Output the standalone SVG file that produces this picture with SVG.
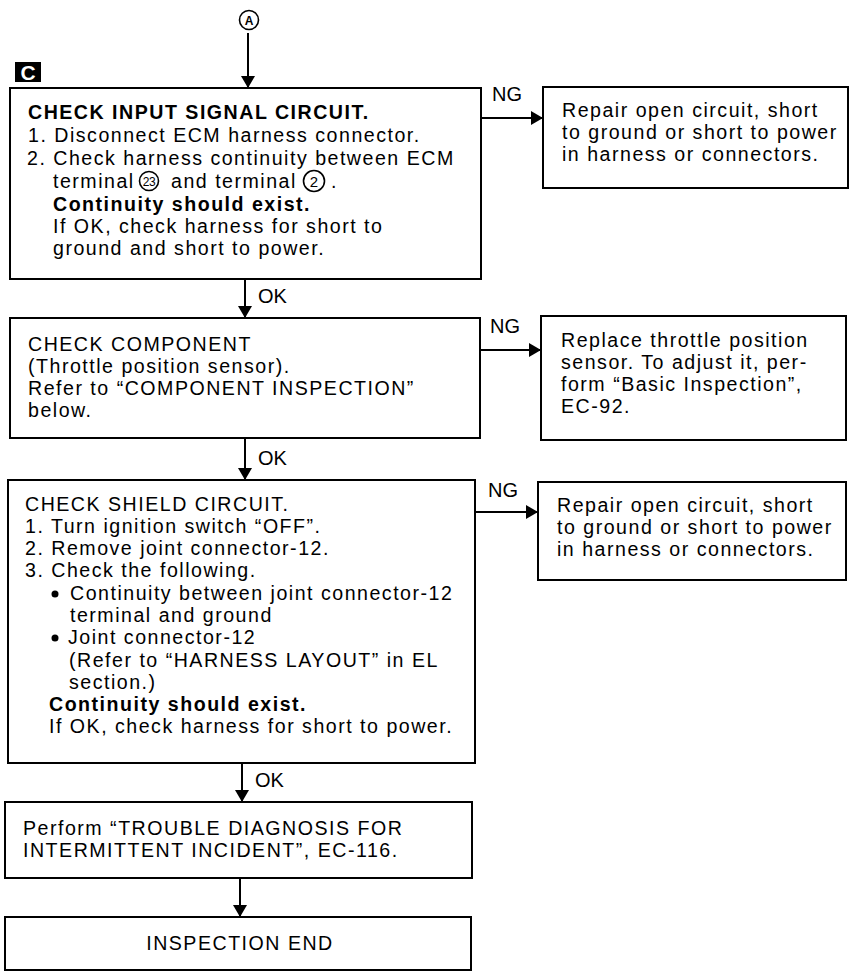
<svg xmlns="http://www.w3.org/2000/svg" width="857" height="973" viewBox="0 0 857 973">
<style>
.box{fill:#fff;stroke:#000;stroke-width:2}
.t{font-family:"Liberation Sans",Arial,sans-serif;font-size:19.6px;letter-spacing:1.5px;fill:#000}
.b{font-weight:bold}
.lbl{font-family:"Liberation Sans",Arial,sans-serif;font-size:20px;fill:#000}
.cn{font-family:"Liberation Sans",Arial,sans-serif;fill:#000;text-anchor:middle}
.ring{fill:none;stroke:#000;stroke-width:1.6}
.con{stroke:#000;stroke-width:2;fill:none;marker-end:url(#ah)}
</style>
<defs>
<marker id="ah" viewBox="0 0 12 14" refX="12" refY="7" markerWidth="12" markerHeight="14" orient="auto" markerUnits="userSpaceOnUse">
<path d="M0,0 L12,7 L0,14 z" fill="#000"/>
</marker>
</defs>
<rect width="857" height="973" fill="#fff"/>

<g id="connector-A">
<circle class="ring" cx="249" cy="20" r="9.5"/>
<text class="cn" x="249" y="24.5" font-size="12" font-weight="bold">A</text>
</g>

<g id="badge-C">
<rect x="15" y="62" width="26" height="20" fill="#000"/>
<text x="28" y="80" text-anchor="middle" font-family="Liberation Sans,Arial,sans-serif" font-size="21" font-weight="bold" fill="#fff">C</text>
</g>

<g id="connectors">
<line class="con" x1="248" y1="33" x2="248" y2="88"/>
<line class="con" x1="481" y1="118" x2="543" y2="118"/>
<line class="con" x1="245" y1="279" x2="245" y2="318"/>
<line class="con" x1="480" y1="350" x2="541" y2="350"/>
<line class="con" x1="245" y1="438" x2="245" y2="480"/>
<line class="con" x1="475" y1="512" x2="538" y2="512"/>
<line class="con" x1="242" y1="763" x2="242" y2="802"/>
<line class="con" x1="240" y1="878" x2="240" y2="917"/>
<text class="lbl" x="492" y="101">NG</text>
<text class="lbl" x="258" y="303">OK</text>
<text class="lbl" x="490" y="333">NG</text>
<text class="lbl" x="258" y="465">OK</text>
<text class="lbl" x="488" y="497">NG</text>
<text class="lbl" x="255" y="787">OK</text>
</g>

<g id="check-input-signal">
<rect class="box" x="10" y="88" width="471" height="191"/>
<text class="t b" x="28" y="119">CHECK INPUT SIGNAL CIRCUIT.</text>
<text class="t" x="28" y="142">1. Disconnect ECM harness connector.</text>
<text class="t" x="27" y="165">2. Check harness continuity between ECM</text>
<text class="t" x="53" y="188">terminal</text>
<circle class="ring" cx="149" cy="181" r="9.5"/>
<text class="cn" x="149" y="185.5" font-size="12" letter-spacing="-0.5">23</text>
<text class="t" x="171" y="188">and terminal</text>
<circle class="ring" cx="314" cy="181" r="10.5"/>
<text class="cn" x="314" y="186.5" font-size="15">2</text>
<text class="t" x="331" y="188">.</text>
<text class="t b" x="53" y="211">Continuity should exist.</text>
<text class="t" x="53" y="233">If OK, check harness for short to</text>
<text class="t" x="53" y="255">ground and short to power.</text>
</g>

<g id="repair-1">
<rect class="box" x="543" y="87" width="305" height="101"/>
<text class="t" x="562" y="117">Repair open circuit, short</text>
<text class="t" x="562" y="139">to ground or short to power</text>
<text class="t" x="562" y="161">in harness or connectors.</text>
</g>

<g id="check-component">
<rect class="box" x="10" y="318" width="470" height="120"/>
<text class="t" x="28" y="351">CHECK COMPONENT</text>
<text class="t" x="28" y="373">(Throttle position sensor).</text>
<text class="t" x="28" y="395">Refer to “COMPONENT INSPECTION”</text>
<text class="t" x="28" y="417">below.</text>
</g>

<g id="replace-tps">
<rect class="box" x="541" y="316" width="305" height="124"/>
<text class="t" x="561" y="347">Replace throttle position</text>
<text class="t" x="561" y="369">sensor. To adjust it, per-</text>
<text class="t" x="561" y="391">form “Basic Inspection”,</text>
<text class="t" x="561" y="413">EC-92.</text>
</g>

<g id="check-shield">
<rect class="box" x="8" y="480" width="467" height="283"/>
<text class="t" x="25" y="511">CHECK SHIELD CIRCUIT.</text>
<text class="t" x="25" y="533">1. Turn ignition switch “OFF”.</text>
<text class="t" x="25" y="555">2. Remove joint connector-12.</text>
<text class="t" x="25" y="577">3. Check the following.</text>
<circle cx="55" cy="594" r="3.5" fill="#000"/>
<text class="t" x="70" y="600">Continuity between joint connector-12</text>
<text class="t" x="70" y="622">terminal and ground</text>
<circle cx="55" cy="638" r="3.5" fill="#000"/>
<text class="t" x="68" y="644">Joint connector-12</text>
<text class="t" x="69" y="667">(Refer to “HARNESS LAYOUT” in EL</text>
<text class="t" x="69" y="689">section.)</text>
<text class="t b" x="49" y="711">Continuity should exist.</text>
<text class="t" x="49" y="733">If OK, check harness for short to power.</text>
</g>

<g id="repair-2">
<rect class="box" x="538" y="482" width="308" height="98"/>
<text class="t" x="557" y="512">Repair open circuit, short</text>
<text class="t" x="557" y="534">to ground or short to power</text>
<text class="t" x="557" y="556">in harness or connectors.</text>
</g>

<g id="intermittent">
<rect class="box" x="5" y="802" width="467" height="76"/>
<text class="t" x="23" y="835">Perform “TROUBLE DIAGNOSIS FOR</text>
<text class="t" x="23" y="857">INTERMITTENT INCIDENT”, EC-116.</text>
</g>

<g id="inspection-end">
<rect class="box" x="5" y="917" width="466" height="53"/>
<text class="t" x="240" y="950" text-anchor="middle">INSPECTION END</text>
</g>
</svg>
